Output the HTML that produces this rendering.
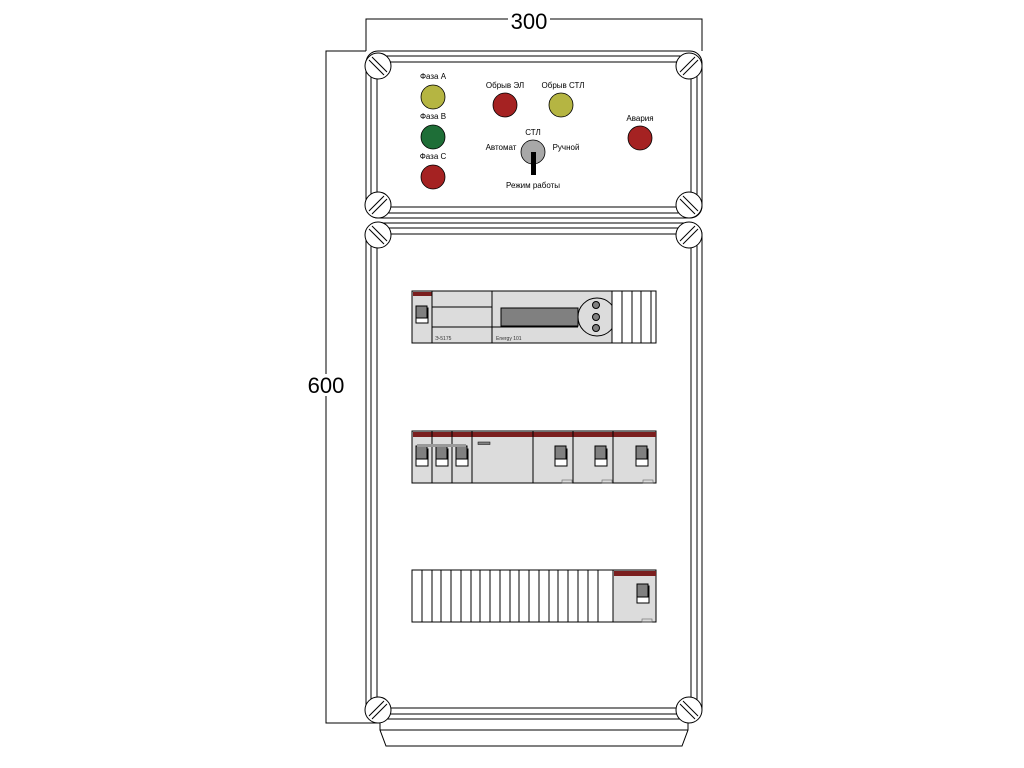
<!DOCTYPE html>
<html><head><meta charset="utf-8"><style>html,body{margin:0;padding:0;background:#fff}svg{display:block}</style></head>
<body>
<svg width="1024" height="768" viewBox="0 0 1024 768" xmlns="http://www.w3.org/2000/svg" font-family="Liberation Sans, sans-serif">
<g fill="none" stroke="#000" stroke-width="1">
<polyline points="366,51 366,19 702,19 702,51"/>
<polyline points="366,51 326,51 326,723 380,723"/>
<rect x="366" y="51" width="336" height="167" rx="12"/>
<rect x="371" y="56" width="326" height="157" rx="8"/>
<rect x="377" y="62" width="314" height="145" rx="5"/>
<rect x="366" y="223" width="336" height="496" rx="12"/>
<rect x="371" y="228" width="326" height="486" rx="8"/>
<rect x="377" y="234" width="314" height="474" rx="5"/>
<polygon points="380,719 688,719 688,730 682,746 386,746 380,730"/>
<line x1="380" y1="730" x2="688" y2="730"/>
</g>
<rect x="508" y="10" width="42" height="18" fill="#fff"/>
<text x="529" y="29" font-size="22" text-anchor="middle">300</text>
<rect x="305" y="374" width="42" height="22" fill="#fff"/>
<text x="326" y="393" font-size="22" text-anchor="middle">600</text>
<g fill="#fff" stroke="#000">
<g transform="translate(378,66)"><circle r="13"/><line x1="-9" y1="-6" x2="6" y2="9"/><line x1="-6" y1="-9" x2="9" y2="6"/></g>
<g transform="translate(689,66)"><circle r="13"/><line x1="-9" y1="6" x2="6" y2="-9"/><line x1="-6" y1="9" x2="9" y2="-6"/></g>
<g transform="translate(378,205)"><circle r="13"/><line x1="-9" y1="6" x2="6" y2="-9"/><line x1="-6" y1="9" x2="9" y2="-6"/></g>
<g transform="translate(689,205)"><circle r="13"/><line x1="-9" y1="-6" x2="6" y2="9"/><line x1="-6" y1="-9" x2="9" y2="6"/></g>
<g transform="translate(378,235)"><circle r="13"/><line x1="-9" y1="-6" x2="6" y2="9"/><line x1="-6" y1="-9" x2="9" y2="6"/></g>
<g transform="translate(689,235)"><circle r="13"/><line x1="-9" y1="6" x2="6" y2="-9"/><line x1="-6" y1="9" x2="9" y2="-6"/></g>
<g transform="translate(378,710)"><circle r="13"/><line x1="-9" y1="6" x2="6" y2="-9"/><line x1="-6" y1="9" x2="9" y2="-6"/></g>
<g transform="translate(689,710)"><circle r="13"/><line x1="-9" y1="-6" x2="6" y2="9"/><line x1="-6" y1="-9" x2="9" y2="6"/></g>
</g>
<g stroke="#000" stroke-width="0.8">
<circle cx="433" cy="97" r="12" fill="#b5b542"/>
<circle cx="433" cy="137" r="12" fill="#1e6e37"/>
<circle cx="433" cy="177" r="12" fill="#a52222"/>
<circle cx="505" cy="105" r="12" fill="#a52222"/>
<circle cx="561" cy="105" r="12" fill="#b5b542"/>
<circle cx="640" cy="138" r="12" fill="#a52222"/>
<circle cx="533" cy="152" r="12" fill="#a8a8a8"/>
</g>
<rect x="531" y="152" width="5" height="23" fill="#000"/>
<g font-size="8" fill="#000" text-anchor="middle">
<text x="433" y="79">Фаза А</text>
<text x="433" y="119">Фаза В</text>
<text x="433" y="159">Фаза С</text>
<text x="505" y="88">Обрыв ЭЛ</text>
<text x="563" y="88">Обрыв СТЛ</text>
<text x="640" y="121">Авария</text>
<text x="533" y="135">СТЛ</text>
<text x="501" y="150">Автомат</text>
<text x="566" y="150">Ручной</text>
<text x="533" y="188">Режим работы</text>
</g>
<g stroke="#000" stroke-width="1">
<rect x="412" y="291" width="244" height="52" fill="#dcdcdc"/>
<rect x="413" y="292" width="19" height="4" fill="#7b1f1f" stroke="none"/>
<line x1="432" y1="291" x2="432" y2="343"/>
<line x1="492" y1="291" x2="492" y2="343"/>
<line x1="432" y1="307" x2="492" y2="307"/>
<line x1="432" y1="327" x2="578" y2="327"/>
<rect x="416" y="308" width="12" height="15" fill="#fff"/>
<rect x="416" y="306" width="11" height="12" fill="#808080"/>
<rect x="501" y="308" width="77" height="18" fill="#808080"/>
<circle cx="597" cy="317" r="19" fill="#dcdcdc"/>
<circle cx="596" cy="305" r="3.5" fill="#808080"/>
<circle cx="596" cy="317" r="3.5" fill="#808080"/>
<circle cx="596" cy="328" r="3.5" fill="#808080"/>
<rect x="612" y="291" width="44" height="52" fill="#fff"/>
<line x1="622" y1="291" x2="622" y2="343"/>
<line x1="632" y1="291" x2="632" y2="343"/>
<line x1="641" y1="291" x2="641" y2="343"/>
<line x1="651" y1="291" x2="651" y2="343"/>
</g>
<g font-size="5" fill="#333"><text x="435" y="340">Э-5175</text><text x="496" y="340">Energy 101</text></g>
<g stroke="#000" stroke-width="1">
<rect x="412" y="431" width="244" height="52" fill="#dcdcdc"/>
<rect x="413" y="432" width="243" height="5" fill="#7b1f1f" stroke="none"/>
<line x1="432" y1="431" x2="432" y2="483"/>
<line x1="452" y1="431" x2="452" y2="483"/>
<line x1="472" y1="431" x2="472" y2="483"/>
<line x1="533" y1="431" x2="533" y2="483"/>
<line x1="573" y1="431" x2="573" y2="483"/>
<line x1="613" y1="431" x2="613" y2="483"/>
<rect x="478" y="442" width="12" height="2.5" fill="#808080" stroke-width="0.5"/>
<g fill="#fff"><rect x="416" y="449" width="12" height="17"/><rect x="436" y="449" width="12" height="17"/><rect x="456" y="449" width="12" height="17"/>
<rect x="555" y="449" width="12" height="17"/><rect x="595" y="449" width="12" height="17"/><rect x="636" y="449" width="12" height="17"/></g>
<g fill="#808080"><rect x="416" y="446" width="11" height="13"/><rect x="436" y="446" width="11" height="13"/><rect x="456" y="446" width="11" height="13"/>
<rect x="555" y="446" width="11" height="13"/><rect x="595" y="446" width="11" height="13"/><rect x="636" y="446" width="11" height="13"/></g>
</g>
<rect x="417" y="444" width="49" height="3" fill="#999"/>
<g fill="none" stroke="#666" stroke-width="0.6"><rect x="562" y="480" width="10" height="3"/><rect x="602" y="480" width="10" height="3"/><rect x="643" y="480" width="10" height="3"/></g>
<g stroke="#000" stroke-width="1">
<rect x="412" y="570" width="244" height="52" fill="#fff"/>
<path d="M422,570V622M432,570V622M441,570V622M451,570V622M461,570V622M471,570V622M480,570V622M490,570V622M500,570V622M510,570V622M519,570V622M529,570V622M539,570V622M549,570V622M558,570V622M568,570V622M578,570V622M588,570V622M598,570V622"/>
<rect x="613" y="570" width="43" height="52" fill="#dcdcdc"/>
<rect x="614" y="571" width="42" height="5" fill="#7b1f1f" stroke="none"/>
<rect x="637" y="586" width="12" height="17" fill="#fff"/>
<rect x="637" y="584" width="11" height="13" fill="#808080"/>
</g>
<rect x="642" y="619" width="10" height="3" fill="none" stroke="#666" stroke-width="0.6"/>
</svg>
</body></html>
